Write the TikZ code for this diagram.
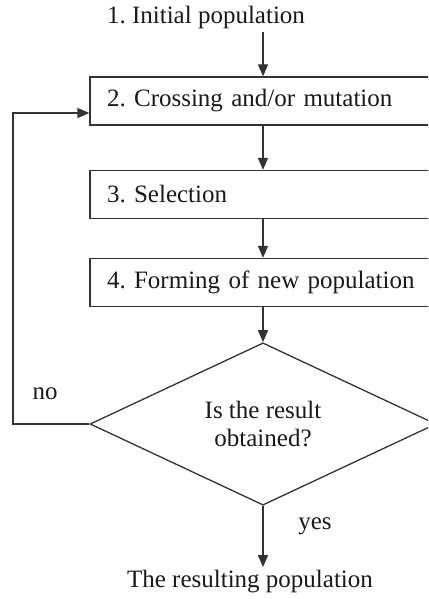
\documentclass[tikz,border=0pt]{standalone}
\usepackage{fontspec}
\setmainfont{Liberation Serif}
\usetikzlibrary{arrows.meta,shapes.geometric}
\frenchspacing

\begin{document}
\begin{tikzpicture}[x=1pt,y=-1pt,
  font=\fontsize{25}{28}\selectfont, text=black!90,
  box/.style={draw=black!80, line width=1.3pt, rectangle, minimum width=346pt,
    minimum height=48pt, text width=312pt, inner xsep=17pt, align=left},
  arrow/.style={draw=black!80, line width=1.3pt, -{Triangle[length=12pt,width=10pt]}}]
\useasboundingbox (0,0) rectangle (428,599);
\clip (0,0) rectangle (428,599);
\node (init) at (206,17) {1. Initial population};
\node [box] (cross) at (263,101) {2. Crossing and/or mutation};
\node [box] (select) at (263,194.5) {3. Selection};
\node [box] (form) at (263,282.5) {4. Forming of new population};
\node [diamond, draw=black!80, line width=1.3pt, minimum width=346pt,
  minimum height=152pt, inner sep=0pt, align=center] (check) at (263,424)
  {Is the result\\obtained?};
\node (result) at (250,582) {The resulting population};
\node (no) at (45,394) {no};
\node (yes) at (315,526) {yes};
\coordinate (loop) at (13,0);
% main line
\draw [arrow] (init.south -| cross.north) -- (cross.north);
\draw [arrow] (cross) -- (select);
\draw [arrow] (select) -- (form);
\draw [arrow] (form.south) -- (check.north);
\draw [arrow] (check.south) -- (result.north -| check.south);
% back to crossing
\draw [arrow] (check.west) -- (check.west -| loop) |- ([yshift=-12pt]cross.west);
\end{tikzpicture}
\end{document}
